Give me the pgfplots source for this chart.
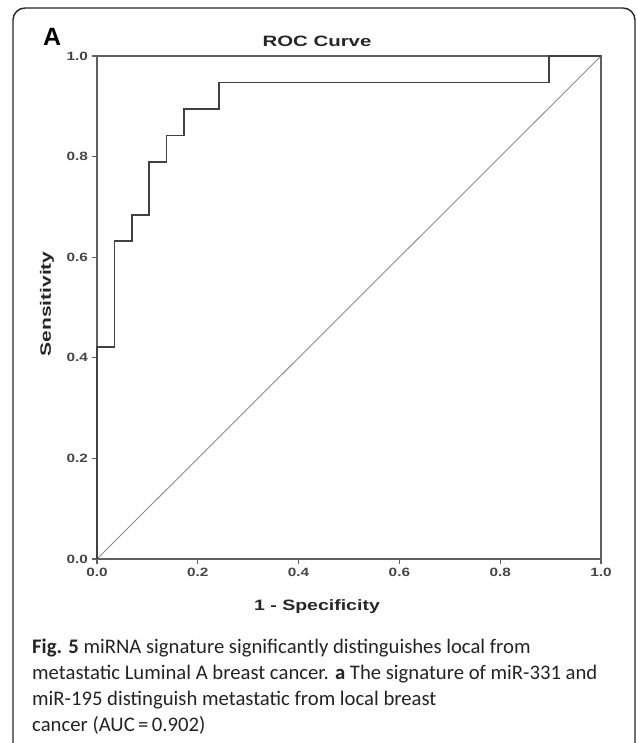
\documentclass[border=0pt]{standalone}
\usepackage{fontspec}
\setmainfont{Liberation Sans}
\newfontfamily\capfont{Carlito}
\usepackage{graphicx}
\usepackage{pgfplots}
\pgfplotsset{compat=1.18}
\definecolor{axgray}{RGB}{95,95,95}
\definecolor{labgray}{RGB}{70,70,70}
\definecolor{curvegray}{RGB}{65,65,65}
\definecolor{diaggray}{RGB}{140,140,140}
\definecolor{captext}{RGB}{35,35,35}

\newcommand{\spss}[2][1.35]{\scalebox{#1}[1]{#2}}

\begin{document}
\begin{tikzpicture}[x=1pt,y=1pt]
\useasboundingbox (0,0) rectangle (637,743);
\clip (0,0) rectangle (637,743);
% frame
\draw[line width=1.4pt, black!85, rounded corners=12pt] (13,-12) rectangle (635,735);

% panel letter and title
\node[anchor=base west, inner sep=0, font=\bfseries\fontsize{25}{25}\selectfont] at (43,697) {A};
\node[anchor=base, inner sep=0, text=black!85, font=\bfseries\fontsize{15}{15}\selectfont] at (317,696.5) {\spss[1.36]{ROC Curve}};

\begin{axis}[
  at={(97pt,184pt)}, anchor=south west,
  scale only axis, width=504pt, height=503pt,
  xmin=0, xmax=1, ymin=0, ymax=1,
  xtick={0,0.2,0.4,0.6,0.8,1}, ytick={0,0.2,0.4,0.6,0.8,1},
  tick align=outside, xtick pos=bottom, ytick pos=left,
  major tick length=5pt,
  axis line style={line width=1.5pt, axgray},
  every tick/.style={line width=1.3pt, axgray},
  tick label style={text=labgray, font=\bfseries\fontsize{12}{12}\selectfont},
  xticklabel={\spss[1.28]{\textbf{\pgfmathprintnumber[fixed,fixed zerofill,precision=1,assume math mode=true]{\tick}}}},
  yticklabel={\spss[1.28]{\textbf{\pgfmathprintnumber[fixed,fixed zerofill,precision=1,assume math mode=true]{\tick}}}},
  xticklabel style={yshift=-0.5pt},
  yticklabel style={xshift=-0.5pt},
  clip=false,
]
\addplot[diaggray, line width=0.9pt] coordinates {(0,0) (1,1)};
\addplot[curvegray, line width=1.7pt] coordinates {
  (0,0) (0,0.4211) (0.0345,0.4211) (0.0345,0.6316) (0.0690,0.6316)
  (0.0690,0.6842) (0.1034,0.6842) (0.1034,0.7895) (0.1379,0.7895)
  (0.1379,0.8421) (0.1724,0.8421) (0.1724,0.8947) (0.2414,0.8947)
  (0.2414,0.9474) (0.8966,0.9474) (0.8966,1) (1,1)
};
\end{axis}

% axis titles
\node[anchor=base, inner sep=0, text=black!85, font=\bfseries\fontsize{15}{15}\selectfont] at (317,132) {\spss[1.3]{1 - Specificity}};
\node[rotate=90, inner sep=0, text=black!85, font=\bfseries\fontsize{15}{15}\selectfont] at (47,439) {\spss[1.4]{Sensitivity}};

% caption
\begin{scope}[every node/.style={anchor=base west, inner sep=0, text=captext, font=\capfont\fontsize{20.7}{20.7}\selectfont}]
\node at (32,89) {\textbf{Fig. 5} miRNA signature significantly distinguishes local from};
\node at (32,63) {metastatic Luminal A breast cancer. \textbf{a} The signature of miR-331 and};
\node at (32,37) {miR-195 distinguish metastatic from local breast};
\node at (32,11) {cancer (AUC\,=\,0.902)};
\end{scope}
\end{tikzpicture}
\end{document}
